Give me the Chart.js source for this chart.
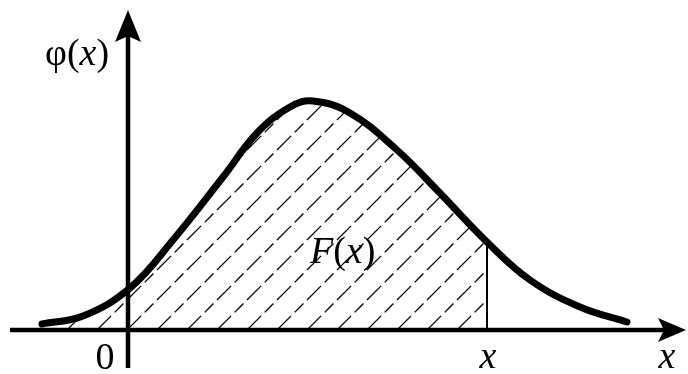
<!DOCTYPE html>
<html>
<head>
<meta charset="utf-8">
<script src="https://cdn.jsdelivr.net/npm/chart.js@4/dist/chart.umd.min.js"></script>
<style>
  html, body { margin: 0; padding: 0; background: #fff; }
  #wrap { width: 688px; height: 374px; }
</style>
</head>
<body>
<div id="wrap"><canvas id="chart" width="688" height="374"></canvas></div>
<script>
// ==========================
// Curve (x: 0 = vertical axis)
// ==========================
const curveX = [-1.72, -0.90, 0.04, 0.90, 1.90, 2.58, 3.24, 3.70, 4.44, 5.38, 6.18, 7.18,
                8.04, 9.04, 9.98];
const curveY = [0.12, 0.28, 0.84, 1.80, 3.06, 3.94, 4.46, 4.58, 4.34, 3.60, 2.80, 1.76,
                1.00, 0.46, 0.16];
const cutX = 7.18;          // the "x" where the shaded area stops
// label pieces: [text, italic]
const yLabel = [["φ(", false], ["x", true], [")", false]];
const areaLabel = [["F", true], ["(", false], ["x", true], [")", false]];
const originLabel = [["0", false]];
const axisLabel = [["x", true]];

const curve = curveX.map((x, i) => ({ x: x, y: curveY[i] }));
const shaded = curve.filter(p => p.x <= cutX);
const cutTop = curveY[curveX.indexOf(cutX)];

// ==========================
// Diagonal dashed hatching
// ==========================
function hatchPattern() {
    const s = 30;
    const c = document.createElement("canvas");
    c.width = s; c.height = s;
    const g = c.getContext("2d");
    g.strokeStyle = "#000";
    g.lineWidth = 1.3;
    g.setLineDash([20, 5, 12.4, 5]);
    const L = s * Math.SQRT2, e = 5, d = e / Math.SQRT2;
    function seg(x0, y0, x1, y1, phase) {
        g.lineDashOffset = ((phase - e) % L + L) % L;
        g.beginPath();
        g.moveTo(x0 - d, y0 + d);
        g.lineTo(x1 + d, y1 - d);
        g.stroke();
    }
    seg(7, 30, 30, 7, 0);
    seg(0, 7, 7, 0, 23 * Math.SQRT2);
    return g.createPattern(c, "repeat");
}

const SERIF = '"Liberation Serif", "Times New Roman", Times, serif';

function drawPieces(ctx, pieces, x, y, align) {
    const fonts = pieces.map(p => (p[1] ? "italic " : "") + "38px " + SERIF);
    let w = 0;
    pieces.forEach((p, i) => { ctx.font = fonts[i]; w += ctx.measureText(p[0]).width; });
    let cx = align === "center" ? x - w / 2 : x;
    ctx.textAlign = "left";
    ctx.textBaseline = "alphabetic";
    pieces.forEach((p, i) => {
        ctx.font = fonts[i];
        ctx.fillText(p[0], cx, y);
        cx += ctx.measureText(p[0]).width;
    });
}

// ==========================
// Axes with arrows + labels
// ==========================
const axesPlugin = {
    id: "axes",
    afterDatasetsDraw(chart) {
        const ctx = chart.ctx;
        const sx = chart.scales.x, sy = chart.scales.y;
        const x0 = sx.getPixelForValue(0), y0 = sy.getPixelForValue(0);
        const area = chart.chartArea;
        ctx.save();
        ctx.strokeStyle = "#000";
        ctx.fillStyle = "#000";
        ctx.lineWidth = 4.5;
        ctx.lineCap = "butt";

        // x axis
        const xEnd = area.right - 2;
        ctx.beginPath();
        ctx.moveTo(area.left + 10, y0);
        ctx.lineTo(xEnd - 20, y0);
        ctx.stroke();
        ctx.beginPath();
        ctx.moveTo(xEnd, y0);
        ctx.lineTo(xEnd - 28, y0 - 12);
        ctx.lineTo(xEnd - 22, y0);
        ctx.lineTo(xEnd - 28, y0 + 12);
        ctx.closePath();
        ctx.fill();

        // y axis
        const yTop = area.top + 10;
        ctx.beginPath();
        ctx.moveTo(x0, area.bottom - 6);
        ctx.lineTo(x0, yTop + 20);
        ctx.stroke();
        ctx.beginPath();
        ctx.moveTo(x0, yTop);
        ctx.lineTo(x0 - 13, yTop + 32);
        ctx.lineTo(x0, yTop + 26);
        ctx.lineTo(x0 + 13, yTop + 32);
        ctx.closePath();
        ctx.fill();

        // labels
        drawPieces(ctx, yLabel, x0 - 83, area.top + 65, "left");
        drawPieces(ctx, areaLabel, sx.getPixelForValue(3.64), sy.getPixelForValue(1.34), "left");
        drawPieces(ctx, originLabel, x0 - 23, y0 + 39, "center");
        drawPieces(ctx, axisLabel, sx.getPixelForValue(cutX) + 1, y0 + 38, "center");
        drawPieces(ctx, axisLabel, xEnd - 19, y0 + 38, "center");
        ctx.restore();
    }
};

// ==========================
// Chart
// ==========================
const ctx = document.getElementById("chart").getContext("2d");
const chart = new Chart(ctx, {
    type: "line",
    data: {
        datasets: [
            {
                label: "φ(x)",
                data: curve,
                borderColor: "#000",
                borderWidth: 7,
                borderCapStyle: "round",
                pointRadius: 0,
                tension: 0.4,
                fill: false
            },
            {
                label: "cut",
                data: [{ x: cutX, y: 0 }, { x: cutX, y: cutTop }],
                borderColor: "#000",
                borderWidth: 2,
                pointRadius: 0,
                fill: false
            },
            {
                label: "F(x)",
                data: shaded,
                borderWidth: 0,
                borderColor: "rgba(0,0,0,0)",
                backgroundColor: hatchPattern(),
                pointRadius: 0,
                tension: 0.4,
                fill: "origin"
            }
        ]
    },
    options: {
        responsive: false,
        animation: false,
        devicePixelRatio: 1,
        layout: { padding: 0 },
        plugins: {
            legend: { display: false },
            tooltip: { enabled: false }
        },
        scales: {
            x: { type: "linear", display: false, min: -2.56, max: 11.2 },
            y: { type: "linear", display: false, min: -0.88, max: 6.6 }
        }
    },
    plugins: [axesPlugin]
});

// redraw once the serif faces are ready
if (document.fonts) {
    Promise.all([
        document.fonts.load('38px "Liberation Serif"'),
        document.fonts.load('italic 38px "Liberation Serif"')
    ]).then(() => chart.draw()).catch(() => {});
}
</script>
</body>
</html>
